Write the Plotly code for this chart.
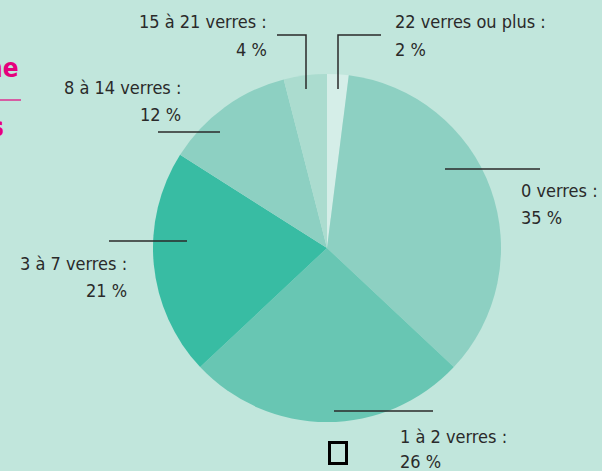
import plotly.graph_objects as go

W, H = 602, 471

categories = ["22 verres ou plus", "0 verres", "1 à 2 verres", "3 à 7 verres", "8 à 14 verres", "15 à 21 verres"]
values = [2, 35, 26, 21, 12, 4]
slice_colors = ["#d5eee8", "#8dd0c2", "#68c6b3", "#38bca3", "#8dd0c2", "#abdccf"]

# label layout: (text x px, first-line y px, second-line y px, xanchor)
label_pos = {
    "22 verres ou plus": (393, 22, 50, "left"),
    "0 verres": (519, 190, 217, "left"),
    "1 à 2 verres": (398, 436, 461, "left"),
    "3 à 7 verres": (129, 263, 290, "right"),
    "8 à 14 verres": (183, 88, 115, "right"),
    "15 à 21 verres": (269, 22, 50, "right"),
}
# leader lines as polylines in px
leaders = [
    [(338, 89), (338, 35), (381, 35)],
    [(445, 169), (540, 169)],
    [(334, 411), (433, 411)],
    [(109, 241), (187, 241)],
    [(158, 132), (220, 132)],
    [(306, 89), (306, 35), (277, 35)],
]

cx, cy, r = 327, 248, 174

def px(x):
    return x / W

def py(y):
    return 1 - y / H

fig = go.Figure(go.Pie(
    labels=categories,
    values=values,
    sort=False,
    direction="clockwise",
    rotation=0,
    marker=dict(colors=slice_colors, line=dict(width=0)),
    textinfo="none",
    hoverinfo="label+percent",
    showlegend=False,
    domain=dict(x=[px(cx - r), px(cx + r)], y=[py(cy + r), py(cy - r)]),
))

font = dict(family="DejaVu Sans Condensed, Liberation Sans Narrow, Roboto, sans-serif", size=18, color="#2a2a2a")
annotations = []
for cat, v in zip(categories, values):
    x, y1, y2, anc = label_pos[cat]
    annotations.append(dict(x=px(x), y=py(y1), xref="paper", yref="paper", text=f"{cat} :",
                            showarrow=False, xanchor=anc, yanchor="middle", font=font))
    annotations.append(dict(x=px(x), y=py(y2), xref="paper", yref="paper", text=f"{v} %",
                            showarrow=False, xanchor=anc, yanchor="middle", font=font))

mag = dict(family="DejaVu Sans Condensed, Liberation Sans Narrow, Roboto, sans-serif", size=26, color="#e5007d")
annotations.append(dict(x=px(21), y=py(68), xref="paper", yref="paper", text="<b>ne</b>",
                        showarrow=False, xanchor="right", yanchor="middle", font=mag))
annotations.append(dict(x=px(6), y=py(127), xref="paper", yref="paper", text="<b>s</b>",
                        showarrow=False, xanchor="right", yanchor="middle", font=mag))

shapes = []
for pts in leaders:
    path = "M " + " L ".join(f"{px(x)},{py(y)}" for x, y in pts)
    shapes.append(dict(type="path", path=path, xref="paper", yref="paper",
                       line=dict(color="#2a2a2a", width=1.5)))
shapes.append(dict(type="line", x0=0, x1=px(21), y0=py(100), y1=py(100), xref="paper", yref="paper",
                   line=dict(color="#e5007d", width=1.2)))
shapes.append(dict(type="rect", x0=px(329.5), x1=px(346.5), y0=py(463.5), y1=py(442.5),
                   xref="paper", yref="paper", line=dict(color="#000000", width=3)))

fig.update_layout(
    width=W, height=H,
    margin=dict(l=0, r=0, t=0, b=0),
    paper_bgcolor="#c1e6dc",
    plot_bgcolor="#c1e6dc",
    annotations=annotations,
    shapes=shapes,
)

fig.write_html("out.html", config={"displayModeBar": False},
               post_script="document.body.style.margin='0';document.body.style.background='#c1e6dc';")
